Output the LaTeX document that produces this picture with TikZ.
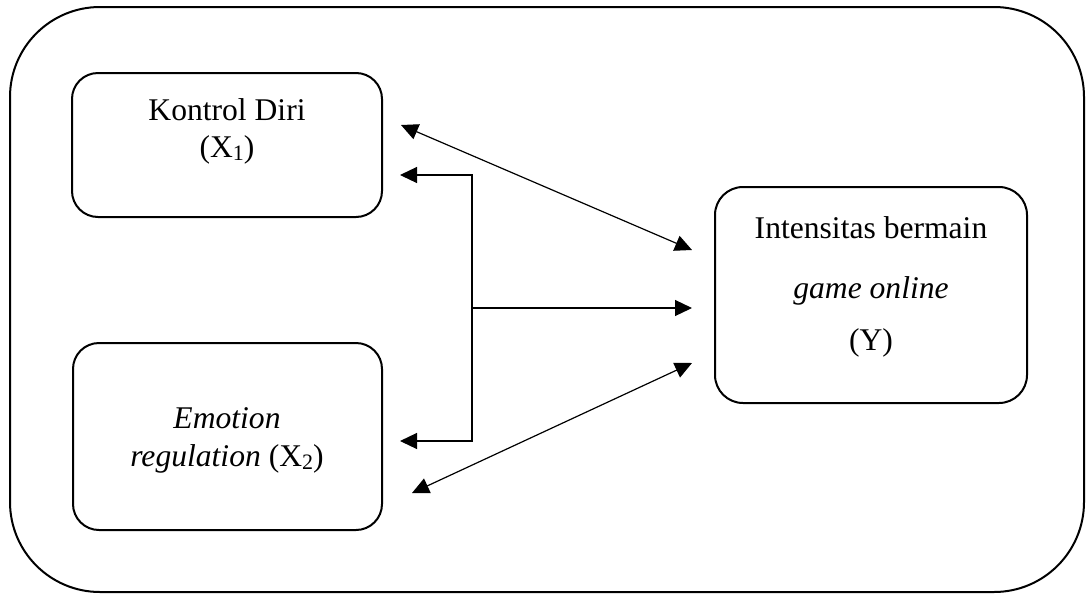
\documentclass[tikz,border=0pt]{standalone}
\usepackage{fontspec}
\setmainfont{Liberation Serif}
\usetikzlibrary{arrows.meta}
\newcommand{\sbs}[1]{{\fontsize{11}{11}\selectfont\raisebox{-1.5pt}{#1}}}
\begin{document}
\begin{tikzpicture}[x=0.5pt,y=-0.5pt,
 box/.style={draw,line width=1pt,rounded corners=13pt,inner sep=0pt,outer sep=0pt},
 lbl/.style={font=\fontsize{15.8}{19}\selectfont,anchor=base,inner sep=0pt},
 conn/.style={line width=0.6pt,-{Triangle[length=8.5pt,width=8pt]}},
 biconn/.style={line width=0.6pt,{Triangle[length=8.5pt,width=8pt]}-{Triangle[length=8.5pt,width=8pt]}}]
\useasboundingbox (0,0) rectangle (1086,595);
\node[box, rounded corners=45pt, minimum width=537pt, minimum height=292.5pt] (outer) at (547,299.5) {};
\node[box, minimum width=155pt, minimum height=72pt] (kd) at (227,145) {};
\node[box, minimum width=154.5pt, minimum height=93.5pt] (er) at (227.5,436.5) {};
\node[box, rounded corners=14pt, minimum width=156pt, minimum height=108pt] (ig) at (871,295) {};
\node[lbl] (t1a) at (227,120) {Kontrol Diri};
\node[lbl] (t1b) at (227,157) {(X\sbs{1})};
\node[lbl] (t2a) at (227,428) {\textit{Emotion}};
\node[lbl] (t2b) at (227,466) {\textit{regulation} (X\sbs{2})};
\node[lbl] (tya) at (871,238) {Intensitas bermain};
\node[lbl] (tyb) at (871,298) {\textit{game online}};
\node[lbl] (tyc) at (871,350) {(Y)};
\coordinate (k1) at (401,125);
\coordinate (y1) at (692,250);
\coordinate (k2) at (400,175);
\coordinate (e2) at (400,441);
\coordinate (ja) at (472,175);
\coordinate (jb) at (472,441);
\coordinate (jm) at (472,308);
\coordinate (y2) at (692,308);
\coordinate (e1) at (412,493);
\coordinate (y3) at (692,363);
\draw[biconn] (k1) -- (y1);
\draw[biconn] (e1) -- (y3);
\draw[biconn] (k2) -- (ja) -- (jb) -- (e2);
\draw[conn] (jm) -- (y2);
\end{tikzpicture}
\end{document}
